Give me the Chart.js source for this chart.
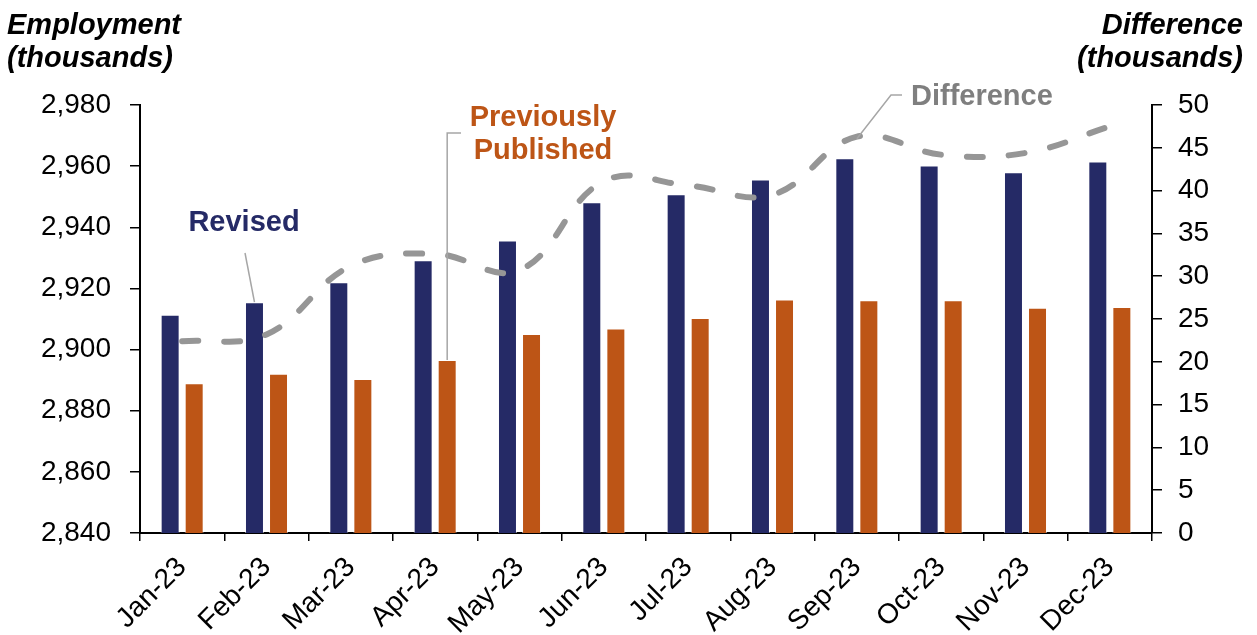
<!DOCTYPE html>
<html>
<head>
<meta charset="utf-8">
<script src="https://cdn.jsdelivr.net/npm/chart.js@4"></script>
<style>
  html, body { margin: 0; padding: 0; background: #fff; }
  #wrap { width: 1257px; height: 635px; }
</style>
</head>
<body>
<div id="wrap"><canvas id="employmentChart" width="1257" height="635"></canvas></div>
<script>
// Monthly employment, revised vs previously published (thousands)
const months = ["Jan-23", "Feb-23", "Mar-23", "Apr-23", "May-23", "Jun-23",
                "Jul-23", "Aug-23", "Sep-23", "Oct-23", "Nov-23", "Dec-23"];
const revised = [2911.4, 2915.5, 2922.0, 2929.2, 2935.7, 2948.2,
                 2950.8, 2955.6, 2962.6, 2960.2, 2958.0, 2961.5];
const published = [2889.0, 2892.1, 2890.4, 2896.6, 2905.1, 2906.9,
                   2910.3, 2916.4, 2916.1, 2916.1, 2913.7, 2913.9];
const difference = [22.4, 23.2, 31.2, 32.6, 30.7, 41.1,
                    40.6, 39.5, 46.3, 44.2, 44.4, 47.5];
const leftTicks = { min: 2840, max: 2980, step: 20 };
const rightTicks = { min: 0, max: 50, step: 5 };

const NAVY = "#252a66";
const ORANGE = "#bd5516";
const GREY = "#969696";
const FONT = "'Liberation Sans', Arial, sans-serif";

// axis titles and callout labels with their leader lines
const calloutPlugin = {
  id: "callouts",
  afterDatasetsDraw(chart) {
    const c = chart.ctx;
    const x = chart.scales.x, y2 = chart.scales.y2;
    const revMeta = chart.getDatasetMeta(1).data;
    const pubMeta = chart.getDatasetMeta(2).data;
    c.save();

    c.fillStyle = "#000";
    c.font = "italic bold 29px " + FONT;
    c.textBaseline = "alphabetic";
    c.textAlign = "left";
    c.fillText("Employment", 7, 34);
    c.fillText("(thousands)", 7, 67);
    c.textAlign = "right";
    c.fillText("Difference", 1243, 34);
    c.fillText("(thousands)", 1243, 67);

    c.strokeStyle = "#a6a6a6";
    c.lineWidth = 1.5;

    // Revised -> Feb bar
    const feb = revMeta[1];
    c.beginPath();
    c.moveTo(245, 253);
    c.lineTo(feb.x, feb.y);
    c.stroke();

    // Previously Published -> Apr bar
    const apr = pubMeta[3];
    c.beginPath();
    c.moveTo(461, 133);
    c.lineTo(apr.x, 133);
    c.lineTo(apr.x, apr.y);
    c.stroke();

    // Difference -> Sep point
    const sepX = x.getPixelForValue(8);
    const sepY = y2.getPixelForValue(difference[8]);
    c.beginPath();
    c.moveTo(902, 95);
    c.lineTo(891, 95);
    c.lineTo(sepX, sepY + 2);
    c.stroke();

    c.font = "bold 29px " + FONT;
    c.textAlign = "center";
    c.fillStyle = NAVY;
    c.fillText("Revised", 244, 231);
    c.fillStyle = ORANGE;
    c.fillText("Previously", 543, 126);
    c.fillText("Published", 543, 159);
    c.fillStyle = "#7f7f7f";
    c.textAlign = "left";
    c.fillText("Difference", 911, 105);
    c.restore();
  }
};

new Chart(document.getElementById("employmentChart"), {
  type: "bar",
  data: {
    labels: months,
    datasets: [
      {
        type: "line",
        label: "Difference",
        data: difference,
        yAxisID: "y2",
        borderColor: GREY,
        borderWidth: 6,
        borderDash: [16, 26],
        borderCapStyle: "round",
        tension: 0.4,
        pointRadius: 0,
        fill: false,
        order: 0
      },
      {
        label: "Revised",
        data: revised,
        yAxisID: "y",
        backgroundColor: NAVY,
        borderColor: "rgba(255,255,255,0.5)",
        borderWidth: { left: 1, right: 1, top: 1, bottom: 0 },
        categoryPercentage: 0.57,
        barPercentage: 0.79,
        order: 1
      },
      {
        label: "Previously Published",
        data: published,
        yAxisID: "y",
        backgroundColor: ORANGE,
        borderColor: "rgba(255,255,255,0.5)",
        borderWidth: { left: 1, right: 1, top: 1, bottom: 0 },
        categoryPercentage: 0.57,
        barPercentage: 0.79,
        order: 1
      }
    ]
  },
  options: {
    responsive: false,
    animation: false,
    layout: { padding: { top: 105, left: 0, right: 0, bottom: 0 } },
    plugins: {
      legend: { display: false },
      tooltip: { enabled: false }
    },
    scales: {
      x: {
        grid: { drawOnChartArea: false, tickLength: 8, color: "#000", lineWidth: 1.5 },
        border: { color: "#000", width: 2 },
        ticks: {
          color: "#000",
          font: { family: FONT, size: 28 },
          maxRotation: 45,
          minRotation: 45,
          padding: 10
        },
        afterFit(scale) { scale.height = 102; }
      },
      y: {
        position: "left",
        min: leftTicks.min,
        max: leftTicks.max,
        grid: { drawOnChartArea: false, tickLength: 10, color: "#000", lineWidth: 1.5 },
        border: { color: "#000", width: 2 },
        ticks: {
          stepSize: leftTicks.step,
          color: "#000",
          font: { family: FONT, size: 28 },
          padding: 19,
          callback: v => v.toLocaleString("en-US")
        },
        afterFit(scale) { scale.width = 140; }
      },
      y2: {
        position: "right",
        min: rightTicks.min,
        max: rightTicks.max,
        grid: { drawOnChartArea: false, tickLength: 10, color: "#000", lineWidth: 1.5 },
        border: { color: "#000", width: 2 },
        ticks: {
          stepSize: rightTicks.step,
          color: "#000",
          font: { family: FONT, size: 28 },
          padding: 16
        },
        afterFit(scale) { scale.width = 105; }
      }
    }
  },
  plugins: [calloutPlugin]
});
</script>
</body>
</html>
